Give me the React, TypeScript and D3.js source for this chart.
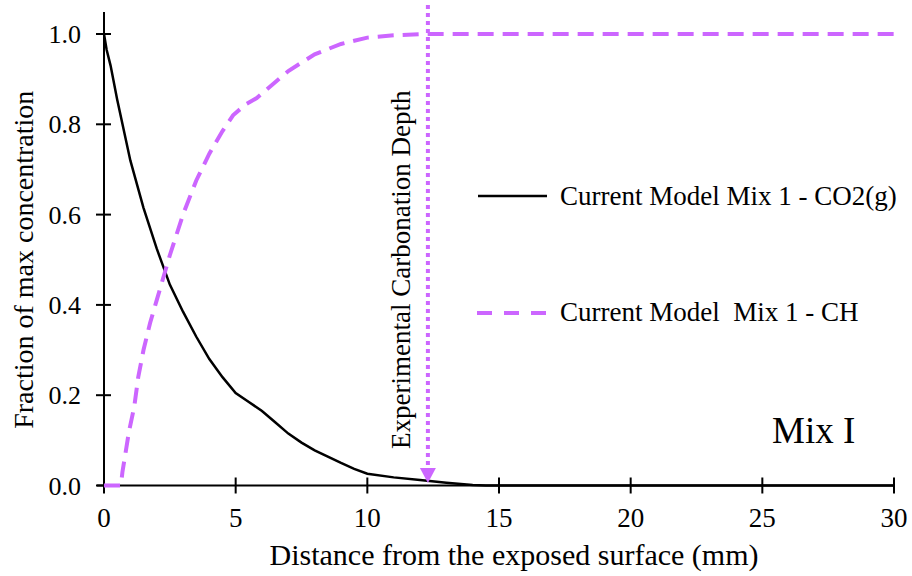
import React from "react"
import * as d3 from "d3"

// CO2(g) profile (distance mm, fraction)
const co2X = [0, 0.1, 0.25, 0.5, 1, 1.5, 2, 2.5, 3, 3.5, 4, 4.5, 5, 5.5, 6, 6.5, 7, 7.5, 8, 8.5, 9, 9.5, 10, 11, 12, 13, 14, 14.5, 30]
const co2Y = [1.0, 0.965, 0.93, 0.855, 0.72, 0.615, 0.525, 0.445, 0.385, 0.33, 0.28, 0.24, 0.205, 0.185, 0.165, 0.14, 0.115, 0.095, 0.078, 0.064, 0.05, 0.037, 0.026, 0.018, 0.012, 0.006, 0.001, 0, 0]

// CH profile
const chX = [0, 0.64, 0.7, 0.95, 1.15, 1.3, 1.5, 1.75, 2, 2.5, 3, 3.5, 4, 4.5, 4.9, 5.4, 5.8, 6.2, 7, 8, 9, 10, 11, 12.3, 30]
const chY = [0, 0, 0.03, 0.12, 0.175, 0.24, 0.3, 0.36, 0.41, 0.51, 0.6, 0.675, 0.735, 0.785, 0.82, 0.845, 0.858, 0.878, 0.918, 0.955, 0.978, 0.992, 0.997, 1.0, 1.0]

const xTicks = [0, 5, 10, 15, 20, 25, 30]
const yTicks = [0, 0.2, 0.4, 0.6, 0.8, 1.0]
const carbonationDepth = 12.3

const legendLabels = ["Current Model Mix 1 - CO2(g)", "Current Model  Mix 1 - CH"]

const purple = "#cc66ff"
const font = "'Liberation Serif', 'Times New Roman', serif"

export default function App() {
    const x = d3.scaleLinear().domain([0, 30]).range([104, 894])
    const y = d3.scaleLinear().domain([0, 1]).range([485.5, 34])

    const line = d3.line<[number, number]>()
        .x(d => x(d[0]))
        .y(d => y(d[1]))

    const co2 = co2X.map((v, i) => [v, co2Y[i]] as [number, number])
    const ch = chX.map((v, i) => [v, chY[i]] as [number, number])

    const xd = x(carbonationDepth)

    return (
        <svg width={912} height={576} style={{ position: "absolute", left: 0, top: 0, background: "#fff" }}
            fontFamily={font}>
            {/* axes */}
            <line x1={x(0)} x2={x(0)} y1={12} y2={493} stroke="#000" strokeWidth={2} />
            <line x1={97} x2={x(30)} y1={y(0)} y2={y(0)} stroke="#000" strokeWidth={2} />
            {yTicks.map(t => (
                <g key={"y" + t}>
                    <line x1={96} x2={111} y1={y(t)} y2={y(t)} stroke="#000" strokeWidth={2} />
                    <text x={81} y={y(t)} dy="0.35em" textAnchor="end" fontSize={26}>{t.toFixed(1)}</text>
                </g>
            ))}
            {xTicks.map(t => (
                <g key={"x" + t}>
                    <line x1={x(t)} x2={x(t)} y1={y(0) - 8} y2={y(0) + 8} stroke="#000" strokeWidth={2} />
                    <text x={x(t)} y={527} textAnchor="middle" fontSize={27}>{t}</text>
                </g>
            ))}
            <text x={(x(0) + x(30)) / 2 + 15} y={565} textAnchor="middle" fontSize={30}>
                Distance from the exposed surface (mm)
            </text>
            <text transform={`translate(33, ${y(0.5)}) rotate(-90)`} textAnchor="middle" fontSize={28}>
                Fraction of max concentration
            </text>

            {/* data */}
            <path d={line(co2) ?? ""} fill="none" stroke="#000" strokeWidth={2.5} />
            <path d={line(ch) ?? ""} fill="none" stroke={purple} strokeWidth={4} strokeDasharray="16 9" />

            {/* carbonation depth marker */}
            <line x1={xd} x2={xd} y1={5} y2={468} stroke={purple} strokeWidth={4} strokeDasharray="4 4" />
            <path d={`M${xd - 8},${468} L${xd + 8},${468} L${xd},${483} Z`} fill={purple} />
            <text transform={`translate(410, 449) rotate(-90)`} fontSize={27}>Experimental Carbonation Depth</text>

            {/* legend */}
            <line x1={478} x2={547} y1={196} y2={196} stroke="#000" strokeWidth={2.5} />
            <text x={560} y={205} fontSize={27}>{legendLabels[0]}</text>
            <line x1={477} x2={548} y1={313} y2={313} stroke={purple} strokeWidth={4} strokeDasharray="15 12" />
            <text x={560} y={321} fontSize={27} style={{ whiteSpace: "pre" }}>{legendLabels[1]}</text>

            <text x={772} y={443} fontSize={37}>Mix I</text>
        </svg>
    )
}
